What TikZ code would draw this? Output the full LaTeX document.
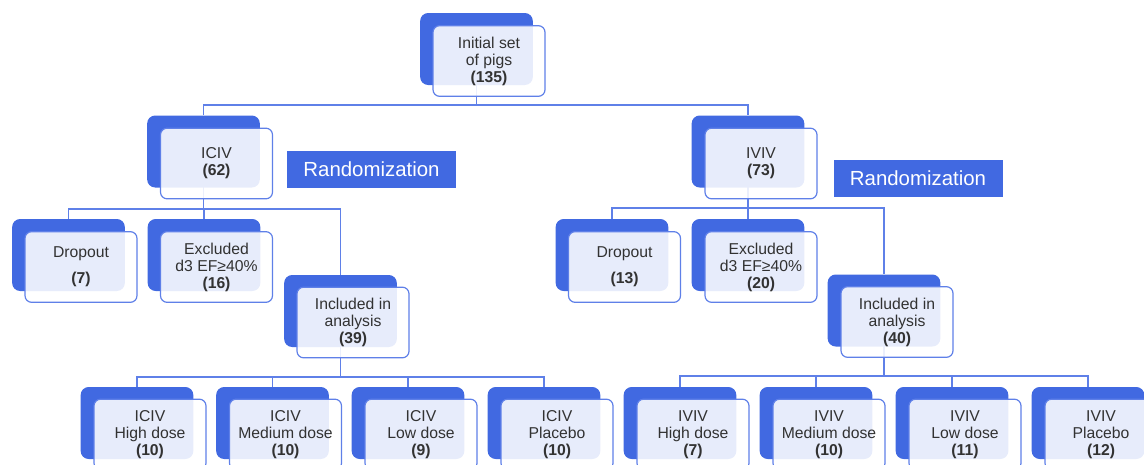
\documentclass[tikz,border=0pt]{standalone}
\usepackage{fontspec}
\setmainfont{Liberation Sans}
\usetikzlibrary{backgrounds}
\definecolor{royal}{RGB}{65,105,225}
\definecolor{linkblue}{RGB}{95,128,232}
\definecolor{txtgray}{RGB}{50,50,50}

\begin{document}
\begin{tikzpicture}[x=0.75pt,y=-0.75pt,
  back/.style={fill=royal, rounded corners=6pt, minimum width=84.5pt, minimum height=54pt, inner sep=0pt},
  front/.style={draw=linkblue, line width=0.9pt, fill=white, fill opacity=0.88, text opacity=1,
    rounded corners=5pt, minimum width=84pt, minimum height=53pt, inner sep=0pt, align=center,
    text=txtgray, font=\fontsize{11.8}{12.8}\selectfont},
  rand/.style={fill=royal, text=white, minimum width=126.75pt, minimum height=27.75pt, inner sep=0pt,
    font=\fontsize{15.3}{18}\selectfont},
  link/.style={linkblue, line width=1pt}]
\useasboundingbox (0,0) rectangle (1144,464);
\clip (0,0) rectangle (1144,464);

% top
\node[back] (topB) at (476.5,49) {};
\node[front] (topF) at ([shift={(12.5,12)}]topB.center) {Initial set\\of pigs\\\textbf{(135)}};

% groups
\node[back] (icivB) at (203.5,151.5) {};
\node[front] (icivF) at ([shift={(13,12)}]icivB.center) {ICIV\\\textbf{(62)}};
\node[back] (ivivB) at (748,151.5) {};
\node[front] (ivivF) at ([shift={(13,12)}]ivivB.center) {IVIV\\\textbf{(73)}};

\node[rand] (randL) at (371.5,169.5) {Randomization};
\node[rand] (randR) at (918,178.5) {Randomization};

% left branch
\node[back] (dropLB) at (68.5,255) {};
\node[front] (dropLF) at ([shift={(12.5,12)}]dropLB.center) {Dropout\\[7pt]\textbf{(7)}};
\node[back] (exclLB) at (204,255) {};
\node[front] (exclLF) at ([shift={(12.5,12)}]exclLB.center) {Excluded\\d3 EF≥40\%\\\textbf{(16)}};
\node[back] (inclLB) at (340.5,311) {};
\node[front] (inclLF) at ([shift={(12.5,11.5)}]inclLB.center) {Included in\\analysis\\\textbf{(39)}};

% right branch
\node[back] (dropRB) at (612,255) {};
\node[front] (dropRF) at ([shift={(12.5,12)}]dropRB.center) {Dropout\\[7pt]\textbf{(13)}};
\node[back] (exclRB) at (748,255) {};
\node[front] (exclRF) at ([shift={(13,12)}]exclRB.center) {Excluded\\d3 EF≥40\%\\\textbf{(20)}};
\node[back] (inclRB) at (884,310.5) {};
\node[front] (inclRF) at ([shift={(13,11.5)}]inclRB.center) {Included in\\analysis\\\textbf{(40)}};

% dose groups
\node[back] (hiLB) at (137,423) {};
\node[front] (hiLF) at ([shift={(13,11.5)}]hiLB.center) {ICIV\\High dose\\\textbf{(10)}};
\node[back] (medLB) at (272.5,423) {};
\node[front] (medLF) at ([shift={(13,11.5)}]medLB.center) {ICIV\\Medium dose\\\textbf{(10)}};
\node[back] (lowLB) at (408,423) {};
\node[front] (lowLF) at ([shift={(13,11.5)}]lowLB.center) {ICIV\\Low dose\\\textbf{(9)}};
\node[back] (plaLB) at (544,423) {};
\node[front] (plaLF) at ([shift={(13,11.5)}]plaLB.center) {ICIV\\Placebo\\\textbf{(10)}};

\node[back] (hiRB) at (680,423) {};
\node[front] (hiRF) at ([shift={(13,11.5)}]hiRB.center) {IVIV\\High dose\\\textbf{(7)}};
\node[back] (medRB) at (816,423) {};
\node[front] (medRF) at ([shift={(13,11.5)}]medRB.center) {IVIV\\Medium dose\\\textbf{(10)}};
\node[back] (lowRB) at (952,423) {};
\node[front] (lowRF) at ([shift={(13,11.5)}]lowRB.center) {IVIV\\Low dose\\\textbf{(11)}};
\node[back] (plaRB) at (1088,423) {};
\node[front] (plaRF) at ([shift={(13,11.5)}]plaRB.center) {IVIV\\Placebo\\\textbf{(12)}};

\begin{scope}[on background layer]
\draw[link] (topB.center) -- ++(0,56) -| (icivB.north);
\draw[link] (topB.center) -- ++(0,56) -| (ivivB.north);

\draw[link] (icivB.center) -- ++(0,57.5) -| (dropLB.north);
\draw[link] (icivB.center) -- ++(0,57.5) -| (exclLB.north);
\draw[link] (icivB.center) -- ++(0,57.5) -| (inclLB.north);
\draw[link] (ivivB.center) -- ++(0,56.5) -| (dropRB.north);
\draw[link] (ivivB.center) -- ++(0,56.5) -| (exclRB.north);
\draw[link] (ivivB.center) -- ++(0,56.5) -| (inclRB.north);

\draw[link] (inclLB.center) -- ++(0,66) -| (hiLB.north);
\draw[link] (inclLB.center) -- ++(0,66) -| (medLB.north);
\draw[link] (inclLB.center) -- ++(0,66) -| (lowLB.north);
\draw[link] (inclLB.center) -- ++(0,66) -| (plaLB.north);
\draw[link] (inclRB.center) -- ++(0,65.5) -| (hiRB.north);
\draw[link] (inclRB.center) -- ++(0,65.5) -| (medRB.north);
\draw[link] (inclRB.center) -- ++(0,65.5) -| (lowRB.north);
\draw[link] (inclRB.center) -- ++(0,65.5) -| (plaRB.north);
\end{scope}

\end{tikzpicture}
\end{document}
